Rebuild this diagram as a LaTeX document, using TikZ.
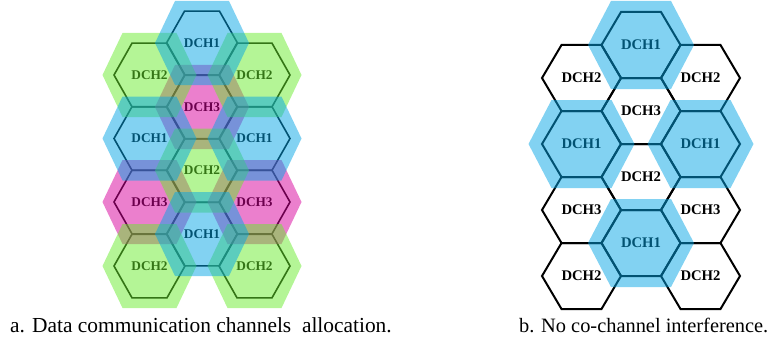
\documentclass[tikz,border=0pt]{standalone}
\usepackage{fontspec}
\setmainfont{Liberation Serif}
\definecolor{hblue}{RGB}{5,165,229}
\definecolor{hgreen}{RGB}{105,235,45}
\definecolor{hmag}{RGB}{215,0,155}
\newcommand{\hexat}[5]{(#1-#3,#2) -- (#1-#4,#2-#5) -- (#1+#4,#2-#5) -- (#1+#3,#2) -- (#1+#4,#2+#5) -- (#1-#4,#2+#5) -- cycle}
\begin{document}
\begin{tikzpicture}[x=1pt,y=-1pt,
  outl/.style={draw=black,line width=1.6pt,line join=miter},
  outr/.style={draw=black,line width=2pt,line join=miter},
  halo/.style={fill opacity=0.5,draw=none},
  labl/.style={font=\fontsize{13.3}{16}\selectfont\bfseries,inner sep=0pt},
  labr/.style={font=\fontsize{14.7}{17}\selectfont\bfseries,inner sep=0pt},
  capa/.style={font=\fontsize{21.4}{24}\selectfont,inner sep=0pt},
  capb/.style={font=\fontsize{20.4}{24}\selectfont,inner sep=0pt}]
\useasboundingbox (0,0) rectangle (768,345);

% ---------- left diagram (a) ----------
\foreach \x/\y/\t/\n in {202/43/DCH1/la1,202/107/DCH3/la2,202/170.5/DCH2/la3,202/234/DCH1/la4,
  149.5/75/DCH2/la5,149.5/138.5/DCH1/la6,149.5/202/DCH3/la7,149.5/266/DCH2/la8,
  254.5/75/DCH2/la9,254.5/138.5/DCH1/la10,254.5/202/DCH3/la11,254.5/266/DCH2/la12}{
  \draw[outl] \hexat{\x}{\y}{35.5}{17.5}{31.8};
  \node[labl] (\n) at (\x,\y) {\t};
}
\foreach \x/\y in {202/107,149.5/202,254.5/202}{
  \fill[halo,hmag] \hexat{\x}{\y}{47}{27}{42};
}
\foreach \x/\y in {149.5/75,254.5/75,202/170.5,149.5/266,254.5/266}{
  \fill[halo,hgreen] \hexat{\x}{\y}{47}{27}{42};
}
\foreach \x/\y in {202/43,149.5/138.5,254.5/138.5,202/234}{
  \fill[halo,hblue] \hexat{\x}{\y}{47}{27}{42};
}

% ---------- right diagram (b) ----------
\foreach \x/\y/\t/\n in {641/45/DCH1/rb1,641/111/DCH3/rb2,641/177/DCH2/rb3,641/243/DCH1/rb4,
  581.5/78/DCH2/rb5,581.5/144/DCH1/rb6,581.5/210/DCH3/rb7,581.5/276/DCH2/rb8,
  700.5/78/DCH2/rb9,700.5/144/DCH1/rb10,700.5/210/DCH3/rb11,700.5/276/DCH2/rb12}{
  \draw[outr] \hexat{\x}{\y}{39.5}{20}{33};
  \node[labr] (\n) at (\x,\y) {\t};
}
\foreach \x/\y in {641/45,581.5/144,700.5/144,641/243}{
  \fill[halo,hblue] \hexat{\x}{\y}{53}{30}{44};
}

% ---------- captions ----------
\node[capa,anchor=base west] (capta) at (10,332) {a. Data communication channels\ \ allocation.};
\node[capb,anchor=base east] (captb) at (768.5,332) {b. No co-channel interference.};
\end{tikzpicture}
\end{document}
